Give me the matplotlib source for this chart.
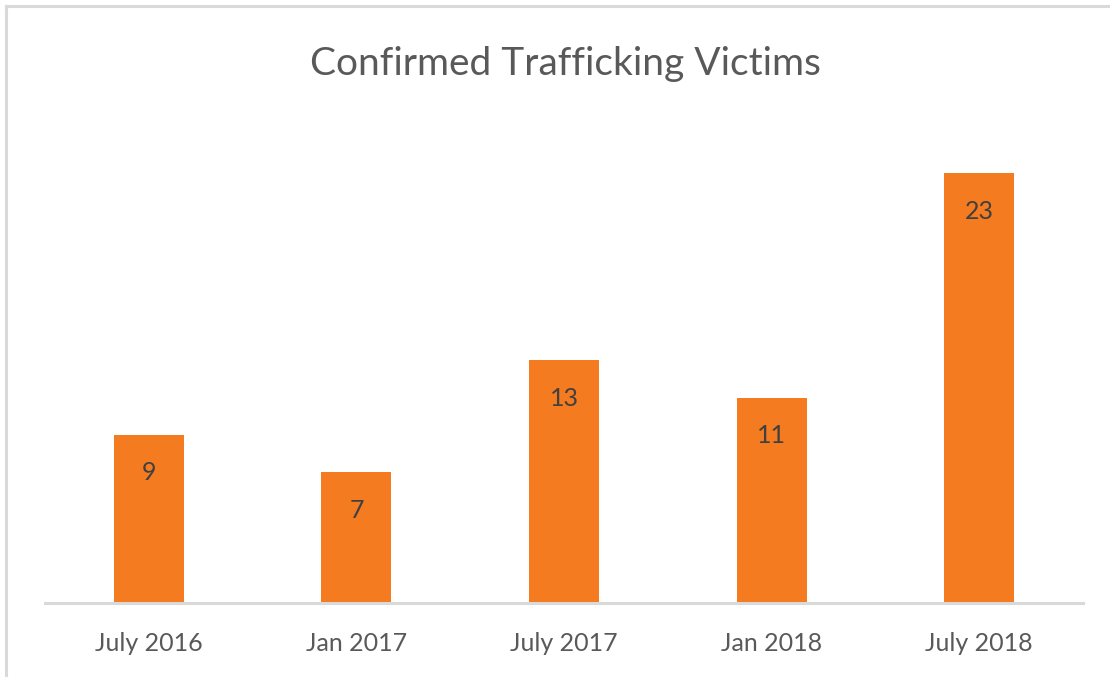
import matplotlib
matplotlib.use("Agg")
import matplotlib.pyplot as plt
from matplotlib.lines import Line2D

categories = ["July 2016", "Jan 2017", "July 2017", "Jan 2018", "July 2018"]
values = [9, 7, 13, 11, 23]
title = "Confirmed Trafficking Victims"

plt.rcParams['font.family'] = ['Lato', 'DejaVu Sans']
W, H = 1110, 677
fig = plt.figure(figsize=(W / 100, H / 100), dpi=100)
fig.patch.set_facecolor("white")

# chart border (left and top visible)
border_col = "#D9D9D9"
fig.add_artist(Line2D([6 / W, 6 / W], [0, 1 - 6 / H], transform=fig.transFigure, color=border_col, lw=2.2))
fig.add_artist(Line2D([6 / W, 1], [1 - 6 / H, 1 - 6 / H], transform=fig.transFigure, color=border_col, lw=2.2))

ax = fig.add_axes([45 / W, 1 - 603 / H, (1083 - 45) / W, (603 - 136) / H])
x = list(range(len(categories)))
bars = ax.bar(x, values, width=0.337, color="#F47B20", zorder=2)
ax.set_xlim(-0.5, len(categories) - 0.5)
ax.set_ylim(0, 25)

for s in ["top", "right", "left"]:
    ax.spines[s].set_visible(False)
ax.spines["bottom"].set_color("#D9D9D9")
ax.spines["bottom"].set_linewidth(2.2)
ax.set_yticks([])
ax.set_xticks(x)
ax.set_xticklabels(categories, fontsize=18, color="#595959")
ax.tick_params(axis="x", length=0, pad=21)

for xi, v in zip(x, values):
    ax.annotate(str(v), (xi, v), xytext=(0, -38), textcoords="offset pixels",
                ha="center", va="center", fontsize=18, color="#404040")

fig.text(565 / W, 1 - 64 / H, title, ha="center", va="center", fontsize=28, color="#595959")

fig.savefig("out.png", dpi=100, facecolor="white")
